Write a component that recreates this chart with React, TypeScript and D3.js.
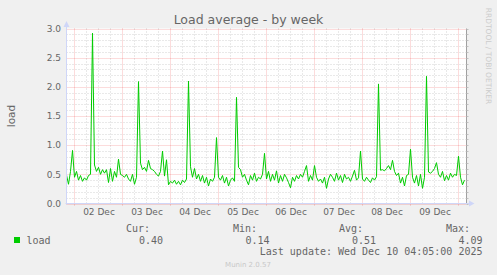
import React from "react";
import * as d3 from "d3";

// Hourly load values, starting Dec 1 20:15 UTC
const LOAD: number[] = [
  0.49, 0.33, 0.55, 0.91, 0.45, 0.55, 0.40, 0.48, 0.38, 0.44, 0.40, 0.48,
  0.50, 2.92, 0.66, 0.55, 0.62, 0.50, 0.58, 0.52, 0.58, 0.36, 0.60, 0.38,
  0.55, 0.45, 0.76, 0.50, 0.48, 0.45, 0.50, 0.42, 0.38, 0.50, 0.33, 0.45,
  2.09, 0.69, 0.58, 0.62, 0.55, 0.74, 0.60, 0.58, 0.55, 0.50, 0.47, 0.55,
  0.90, 0.47, 0.75, 0.32, 0.38, 0.35, 0.40, 0.33, 0.38, 0.32, 0.40, 0.36,
  0.42, 2.10, 0.63, 0.45, 0.60, 0.42, 0.50, 0.38, 0.48, 0.35, 0.45, 0.30,
  0.42, 0.38, 0.45, 1.13, 0.45, 0.40, 0.48, 0.35, 0.45, 0.30, 0.40, 0.44,
  0.38, 1.82, 0.62, 0.58, 0.45, 0.50, 0.40, 0.32, 0.48, 0.40, 0.52, 0.38,
  0.45, 0.42, 0.50, 0.86, 0.42, 0.55, 0.38, 0.50, 0.40, 0.56, 0.35, 0.48,
  0.38, 0.50, 0.44, 0.36, 0.27, 0.45, 0.38, 0.48, 0.42, 0.50, 0.45, 0.55,
  0.65, 0.38, 0.48, 0.40, 0.65, 0.45, 0.38, 0.42, 0.35, 0.45, 0.26, 0.42,
  0.50, 0.45, 0.38, 0.52, 0.40, 0.48, 0.36, 0.50, 0.42, 0.45, 0.38, 0.47,
  0.57, 0.40, 0.44, 0.90, 0.42, 0.38, 0.45, 0.40, 0.36, 0.44, 0.40, 0.46,
  2.05, 0.57, 0.58, 0.56, 0.60, 0.65, 0.58, 0.74, 0.55, 0.48, 0.52, 0.35,
  0.45, 0.30, 0.48, 0.50, 0.93, 0.45, 0.35, 0.48, 0.30, 0.50, 0.26, 0.45,
  2.18, 0.54, 0.52, 0.55, 0.60, 0.70, 0.50, 0.45, 0.55, 0.39, 0.48, 0.40,
  0.52, 0.45, 0.50, 0.48, 0.81, 0.45, 0.32, 0.40,
];

const START = Date.UTC(2025, 11, 1, 20, 15);
const END = Date.UTC(2025, 11, 10, 4, 15);
const STEP_MS = 3600 * 1000;

const TITLE = "Load average - by week";
const Y_LABEL = "load";
const SERIES_NAME = "load";
const LEGEND_HEADERS = ["Cur:", "Min:", "Avg:", "Max:"];
const LEGEND_VALUES = ["0.40", "0.14", "0.51", "4.09"];
const LAST_UPDATE = "Last update: Wed Dec 10 04:05:00 2025";
const WATERMARK = "Munin 2.0.57";
const SIDE_TEXT = "RRDTOOL / TOBI OETIKER";

export default function App() {
  const W = 497;
  const H = 275;
  const left = 66.5;
  const right = 466.5;
  const top = 28.5;
  const bottom = 203.5;

  const x = d3.scaleUtc().domain([new Date(START), new Date(END)]).range([left, right]);
  const y = d3.scaleLinear().domain([0, 3]).range([bottom, top]);

  const majorY = y.ticks(6);
  const minorY = y.ticks(30).filter((v) => !majorY.some((m) => Math.abs(m - v) < 1e-9));
  const days = d3.utcDay.range(new Date(START), new Date(END));
  const sixHours = d3.utcHour
    .every(6)!
    .range(new Date(START), new Date(END))
    .filter((d) => d.getUTCHours() !== 0);
  const noons = days
    .map((d) => new Date(+d + 12 * 3600 * 1000))
    .filter((d) => +d < END);
  const fmt = d3.utcFormat("%d %b");

  const line = d3
    .line<number>()
    .x((_, i) => x(new Date(START + i * STEP_MS)))
    .y((d) => y(d));

  const font = "DejaVu Sans, sans-serif";
  const mono = "DejaVu Sans Mono, monospace";
  const textColor = "#666666";
  const axisColor = "#CFD6F8";
  const minorColor = "rgba(128,128,128,0.35)";
  const majorColor = "rgba(235,0,0,0.28)";

  const headerX = [150, 257, 363, 470];
  const valueX = [163, 269.5, 376, 482.5];

  return (
    <svg
      width={W}
      height={H}
      style={{ position: "absolute", left: 0, top: 0, display: "block" }}
    >
      <rect x={0} y={0} width={W} height={H} fill="#F0F0F0" />
      <rect x={left} y={top} width={right - left} height={bottom - top} fill="#FFFFFF" />

      {/* minor grid */}
      {minorY.map((v, i) => (
        <line key={"my" + i} x1={left} x2={right} y1={Math.round(y(v)) + 0.5} y2={Math.round(y(v)) + 0.5}
          stroke={minorColor} strokeWidth={1} strokeDasharray="1,2" />
      ))}
      {sixHours.map((d, i) => (
        <line key={"mx" + i} x1={Math.round(x(d)) + 0.5} x2={Math.round(x(d)) + 0.5} y1={top} y2={bottom}
          stroke={minorColor} strokeWidth={1} strokeDasharray="1,2" />
      ))}
      {/* major grid */}
      {majorY.map((v, i) => (
        <line key={"My" + i} x1={left} x2={right} y1={Math.round(y(v)) + 0.5} y2={Math.round(y(v)) + 0.5}
          stroke={majorColor} strokeWidth={1} strokeDasharray="1,1" />
      ))}
      {days.map((d, i) => (
        <line key={"Mx" + i} x1={Math.round(x(d)) + 0.5} x2={Math.round(x(d)) + 0.5} y1={top} y2={bottom + 2}
          stroke={majorColor} strokeWidth={1} strokeDasharray="1,1" />
      ))}

      {/* right border with ticks */}
      <line x1={right} x2={right} y1={top} y2={bottom} stroke="#A0A0A0" strokeWidth={1} />
      {y.ticks(30).map((v, i) => (
        <line key={"rt" + i} x1={right} x2={right + 2} y1={Math.round(y(v)) + 0.5} y2={Math.round(y(v)) + 0.5}
          stroke="#C0C0C0" strokeWidth={1} />
      ))}

      {/* data line */}
      <path d={line(LOAD) || ""} fill="none" stroke="#00CC00" strokeWidth={1} />

      {/* axes */}
      <line x1={left} x2={left} y1={bottom + 1} y2={top - 4} stroke={axisColor} strokeWidth={1} />
      <line x1={left - 1} x2={right + 3} y1={bottom} y2={bottom} stroke={axisColor} strokeWidth={1} />
      <path d={`M${left - 3},${top - 1.5} L${left + 3},${top - 1.5} L${left},${top - 7.5} Z`} fill={axisColor} />
      <path d={`M${right + 2.5},${bottom - 3} L${right + 2.5},${bottom + 3} L${right + 8},${bottom} Z`} fill={axisColor} />

      {/* y tick labels */}
      {majorY.map((v, i) => (
        <text key={"yl" + i} x={61} y={y(v) + 3.3} textAnchor="end" fontFamily={font} fontSize={9} fill={textColor}>
          {v.toFixed(1)}
        </text>
      ))}
      {/* x tick labels */}
      {noons.map((d, i) => (
        <text key={"xl" + i} x={x(d) + 1} y={215} textAnchor="middle" fontFamily={font} fontSize={9} fill={textColor}>
          {fmt(d)}
        </text>
      ))}

      {/* title */}
      <text x={248.5} y={24.3} textAnchor="middle" fontFamily={font} fontSize={12.5} fill={textColor}>
        {TITLE}
      </text>
      {/* y axis label */}
      <text transform={`translate(14.5, ${(top + bottom) / 2}) rotate(-90)`} textAnchor="middle"
        fontFamily={font} fontSize={10.5} fill={textColor}>
        {Y_LABEL}
      </text>
      {/* side watermark */}
      <text transform={`translate(485.5, 56) rotate(90)`} textAnchor="middle"
        fontFamily={font} fontSize={7.5} fill="#CCCCCC">
        {SIDE_TEXT}
      </text>

      {/* legend */}
      {LEGEND_HEADERS.map((h, i) => (
        <text key={"lh" + i} x={headerX[i]} y={232} textAnchor="end" fontFamily={mono} fontSize={10} fill={textColor}>
          {h}
        </text>
      ))}
      <rect x={14} y={237} width={6} height={6} fill="#00CC00" />
      <text x={26.5} y={244} fontFamily={mono} fontSize={10} fill={textColor}>
        {SERIES_NAME}
      </text>
      {LEGEND_VALUES.map((v, i) => (
        <text key={"lv" + i} x={valueX[i]} y={244} textAnchor="end" fontFamily={mono} fontSize={10} fill={textColor}>
          {v}
        </text>
      ))}
      <text x={482.5} y={255} textAnchor="end" fontFamily={mono} fontSize={10} fill={textColor}>
        {LAST_UPDATE}
      </text>
      <text x={248} y={267} textAnchor="middle" fontFamily={font} fontSize={7} fill="#C8C8C8">
        {WATERMARK}
      </text>
    </svg>
  );
}
